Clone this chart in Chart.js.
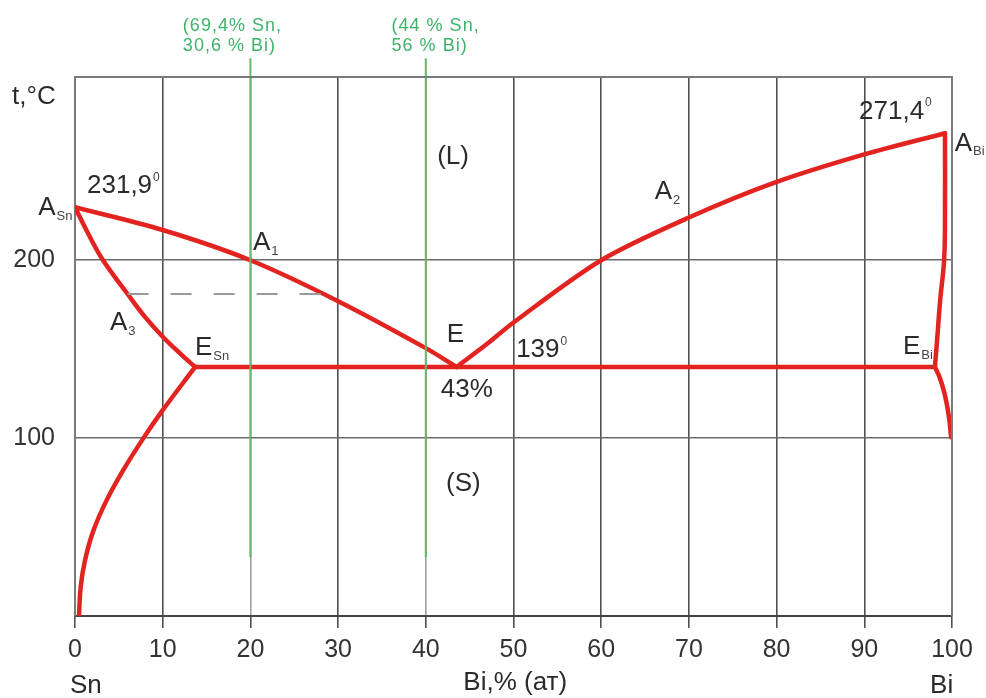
<!DOCTYPE html>
<html>
<head>
<meta charset="utf-8">
<script src="https://cdn.jsdelivr.net/npm/chart.js@4.4.1/dist/chart.umd.min.js"></script>
<style>
  html, body { margin: 0; padding: 0; background: #fff; }
  #wrap { width: 986px; height: 698px; }
</style>
</head>
<body>
<div id="wrap"><canvas id="c" width="986" height="698"></canvas></div>
<script>
// ---- Data (Bi, at.% ; temperature, °C) ----
const xTicks = [0, 10, 20, 30, 40, 50, 60, 70, 80, 90, 100];
const yTicks = [100, 200];

const liquidusSnX = [0, 10, 20, 30, 40, 43.5];
const liquidusSnY = [229.8, 217, 200, 177, 150.6, 140];

const solidusSnX = [0, 1.6, 3.2, 6, 8, 10, 12, 13.7];
const solidusSnY = [229.8, 214, 200, 181, 168, 157, 147.5, 140];

const solvusSnX = [13.7, 9.9, 7.8, 5.5, 3.6, 2.1, 1.15, 0.65, 0.45];
const solvusSnY = [140, 115, 100, 82, 65, 48, 31.5, 16.5, 0];

const liquidusBiX = [43.5, 47, 50, 60, 70, 80, 90, 99.2];
const liquidusBiY = [140, 153, 165, 200, 224, 244, 259.5, 271.4];

const solidusBiX = [99.2, 99.2, 99.1, 98.65, 98.3, 98.05];
const solidusBiY = [271.4, 225, 200, 177.5, 155, 140];

const solvusBiX = [98.05, 98.6, 99.1, 99.45, 99.7, 99.9];
const solvusBiY = [140, 134, 126, 118, 110, 100.5];

const eutecticX = [13.7, 98.05];
const eutecticY = [140, 140];

const dashedX = [6, 28.3];
const dashedY = [181, 181];

const alloy1X = [20, 20];
const alloy2X = [40, 40];
const alloyY = [33, 313.5];

// ---- helpers ----
const pts = (xs, ys) => xs.map((x, i) => ({ x, y: ys[i] }));
const RED = '#e2231f';
const GREEN = '#62b96b';
const FONT = "'Liberation Sans', Arial, sans-serif";

function redLine(xs, ys, tension) {
  return {
    data: pts(xs, ys), showLine: true, borderColor: RED, borderWidth: 4.5,
    pointRadius: 0, tension: tension, fill: false, borderCapStyle: 'round', borderJoinStyle: 'round'
  };
}

// ---- annotation texts (positions in data coordinates) ----
const labels = [
  { t: 'A', sub: 'Sn', x: -4.2, y: 229.2 },
  { t: '231,9', sup: '0', x: 1.37, y: 241.6 },
  { t: 'A', sub: '1', x: 20.3, y: 209.6 },
  { t: 'A', sub: '3', x: 3.99, y: 164.6 },
  { t: 'E', sub: 'Sn', x: 13.68, y: 150.6 },
  { t: 'E', x: 42.4, y: 157.9 },
  { t: '43%', x: 41.7, y: 127.0 },
  { t: '139', sup: '0', x: 50.3, y: 149.4 },
  { t: '(L)', x: 41.3, y: 257.9 },
  { t: '(S)', x: 42.3, y: 74.2 },
  { t: 'A', sub: '2', x: 66.1, y: 238.2 },
  { t: '271,4', sup: '0', x: 89.4, y: 283.7 },
  { t: 'A', sub: 'Bi', x: 100.3, y: 265.7 },
  { t: 'E', sub: 'Bi', x: 94.4, y: 151.1 },
  { t: 't,°C', x: -7.18, y: 291.6 },
  { t: 'Sn', x: -0.57, y: -39.3 },
  { t: 'Bi', x: 97.5, y: -39.3 },
  { t: 'Bi,% (ат)', x: 50.2, y: -37.7, align: 'center' }
];
const greenLabels = [
  { t: '(69,4% Sn,', x: 12.3, y: 331.5 },
  { t: '30,6 % Bi)', x: 12.3, y: 320.2 },
  { t: '(44 % Sn,', x: 36.1, y: 331.5 },
  { t: '56 % Bi)', x: 36.1, y: 320.2 }
];

const textPlugin = {
  id: 'texts',
  afterDatasetsDraw(chart) {
    const { ctx, scales: { x, y }, chartArea } = chart;
    ctx.save();
    // top and right frame
    ctx.strokeStyle = '#7a7a7a';
    ctx.lineWidth = 2;
    ctx.beginPath();
    ctx.moveTo(chartArea.left, chartArea.top);
    ctx.lineTo(chartArea.right, chartArea.top);
    ctx.lineTo(chartArea.right, chartArea.bottom);
    ctx.stroke();

    ctx.textBaseline = 'middle';
    labels.forEach(l => {
      let px = x.getPixelForValue(l.x);
      const py = y.getPixelForValue(l.y);
      ctx.font = '26px ' + FONT;
      ctx.fillStyle = '#2b2b2b';
      const w = ctx.measureText(l.t).width;
      if (l.align === 'center') px -= w / 2;
      ctx.textAlign = 'left';
      ctx.fillText(l.t, px, py);
      if (l.sub) {
        ctx.font = '13px ' + FONT;
        ctx.fillStyle = '#444';
        ctx.fillText(l.sub, px + w + 1, py + 8);
      }
      if (l.sup) {
        ctx.font = '12px ' + FONT;
        ctx.fillStyle = '#444';
        ctx.fillText(l.sup, px + w + 1, py - 9);
      }
    });
    ctx.font = '18px ' + FONT;
    ctx.fillStyle = '#3cb46a';
    try { ctx.letterSpacing = '1px'; } catch (e) {}
    greenLabels.forEach(l => {
      ctx.fillText(l.t, x.getPixelForValue(l.x), y.getPixelForValue(l.y));
    });
    ctx.restore();
  }
};

new Chart(document.getElementById('c'), {
  type: 'scatter',
  data: {
    datasets: [
      { data: pts(alloy1X, alloyY), showLine: true, borderColor: GREEN, borderWidth: 2, pointRadius: 0, clip: false },
      { data: pts(alloy2X, alloyY), showLine: true, borderColor: GREEN, borderWidth: 2, pointRadius: 0, clip: false },
      { data: pts(dashedX, dashedY), showLine: true, borderColor: '#9a9a9a', borderWidth: 2.2, borderDash: [21, 22], pointRadius: 0 },
      redLine(liquidusSnX, liquidusSnY, 0.35),
      redLine(solidusSnX, solidusSnY, 0.4),
      redLine(solvusSnX, solvusSnY, 0.4),
      redLine(liquidusBiX, liquidusBiY, 0.3),
      redLine(solidusBiX, solidusBiY, 0.4),
      redLine(solvusBiX, solvusBiY, 0.4),
      redLine(eutecticX, eutecticY, 0)
    ]
  },
  options: {
    responsive: false,
    animation: false,
    layout: { padding: { top: 77, right: 34, left: 0, bottom: 0 } },
    plugins: { legend: { display: false }, tooltip: { enabled: false } },
    scales: {
      x: {
        type: 'linear', min: 0, max: 100,
        afterBuildTicks: s => { s.ticks = xTicks.map(v => ({ value: v })); },
        afterFit: s => { s.height = 82; },
        ticks: { font: { size: 25, family: FONT }, color: '#333', padding: 7, maxRotation: 0, autoSkip: false },
        grid: {
          color: ctx => (ctx.tick && (ctx.tick.value === 20 || ctx.tick.value === 40)) ? '#a0a0a0' : '#505050',
          lineWidth: 1.6, drawTicks: true, tickLength: 12, tickColor: '#505050'
        },
        border: { display: true, color: '#444', width: 2 }
      },
      y: {
        type: 'linear', min: 0, max: 303,
        afterBuildTicks: s => { s.ticks = yTicks.map(v => ({ value: v })); },
        afterFit: s => { s.width = 75; },
        ticks: { font: { size: 25, family: FONT }, color: '#333', padding: 20 },
        grid: { color: '#6a6a6a', lineWidth: 1.6, drawTicks: false },
        border: { display: true, color: '#7a7a7a', width: 2 }
      }
    }
  },
  plugins: [textPlugin]
});
</script>
</body>
</html>
